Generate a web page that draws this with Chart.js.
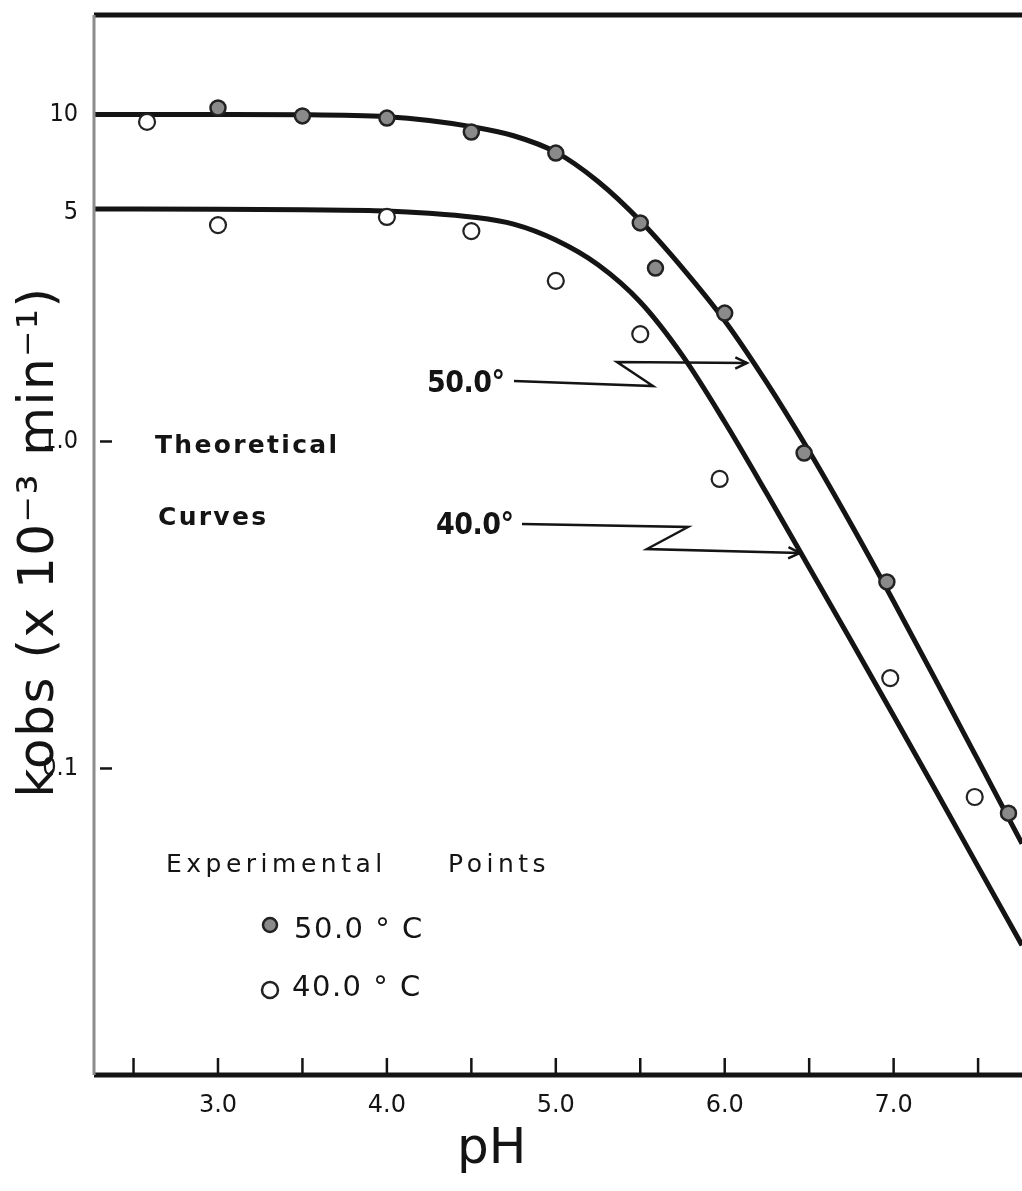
<!DOCTYPE html>
<html>
<head>
<meta charset="utf-8">
<script src="https://cdn.jsdelivr.net/npm/chart.js@4.4.1/dist/chart.umd.min.js"></script>
<style>
html, body { margin: 0; padding: 0; background: #fff; }
canvas { display: block; }
</style>
</head>
<body>
<canvas id="grafica" width="1022" height="1191"></canvas>
<script>
// ejes
const PH_MIN = 2.266, PH_MAX = 7.76
const K_MIN = 0.01155, K_MAX = 20.15
const X_LABELS = [3, 4, 5, 6, 7]
const X_MARKS = [2.5, 3, 3.5, 4, 4.5, 5, 5.5, 6, 6.5, 7, 7.5]
const Y_LABELS = [0.1, 1, 5, 10]
const Y_TEXT = { 0.1: "0.1", 1: "1.0", 5: "5", 10: "10" }

// curvas teoricas
const CURVE_PH = [2.266, 3.0, 3.5, 4.0, 4.25, 4.5, 4.75, 5.0, 5.25, 5.5, 5.75, 6.0, 6.25, 6.5, 6.75, 7.0, 7.25, 7.5, 7.76]
const CURVE_50 = [10.0, 10.0, 9.98, 9.84, 9.59, 9.18, 8.61, 7.67, 6.24, 4.73, 3.39, 2.34, 1.51, 0.933, 0.556, 0.324, 0.186, 0.106, 0.0589]
const CURVE_40 = [5.14, 5.13, 5.11, 5.07, 4.99, 4.86, 4.62, 4.13, 3.47, 2.67, 1.83, 1.147, 0.692, 0.412, 0.245, 0.145, 0.0855, 0.0501, 0.0288]

// puntos experimentales
const PTS50_PH = [3.0, 3.5, 4.0, 4.5, 5.0, 5.5, 5.59, 6.0, 6.47, 6.96, 7.68]
const PTS50_K = [10.47, 9.9, 9.75, 8.84, 7.62, 4.66, 3.39, 2.47, 0.922, 0.372, 0.073]
const PTS40_PH = [2.58, 3.0, 4.0, 4.5, 5.0, 5.5, 5.97, 6.98, 7.48]
const PTS40_K = [9.49, 4.59, 4.86, 4.40, 3.10, 2.13, 0.768, 0.189, 0.0818]

const COND = "'DejaVu Sans Condensed', 'Liberation Sans Narrow', sans-serif"
const SANS = "'DejaVu Sans', sans-serif"
const INK = "#141414"

function pares(xs, ys) {
    return xs.map((v, i) => ({ x: v, y: ys[i] }))
}

function linea(ctx, pts) {
    ctx.beginPath()
    ctx.moveTo(pts[0][0], pts[0][1])
    for (let p of pts.slice(1)) ctx.lineTo(p[0], p[1])
    ctx.stroke()
}

function flecha(ctx, pts) {
    linea(ctx, pts)
    let [x1, y1] = pts[pts.length - 2]
    let [x2, y2] = pts[pts.length - 1]
    let ang = Math.atan2(y2 - y1, x2 - x1)
    linea(ctx, [
        [x2 - 13 * Math.cos(ang - 0.45), y2 - 13 * Math.sin(ang - 0.45)],
        [x2, y2],
        [x2 - 13 * Math.cos(ang + 0.45), y2 - 13 * Math.sin(ang + 0.45)]
    ])
}

function texto(ctx, str, x, y, font, spacing) {
    ctx.font = font
    ctx.letterSpacing = (spacing || 0) + "px"
    ctx.fillText(str, x, y)
    ctx.letterSpacing = "0px"
}

const decor = {
    id: "decor",
    afterDraw(chart) {
        const { ctx, chartArea: a, scales: { x, y } } = chart
        ctx.save()
        ctx.lineCap = "butt"

        // marco
        ctx.strokeStyle = INK
        ctx.lineWidth = 5
        linea(ctx, [[a.left, a.top], [a.right, a.top]])
        linea(ctx, [[a.left, a.bottom], [a.right, a.bottom]])
        ctx.strokeStyle = "#8c8c8c"
        ctx.lineWidth = 3
        linea(ctx, [[a.left, a.top], [a.left, a.bottom]])

        // marcas hacia dentro
        ctx.strokeStyle = INK
        ctx.lineWidth = 2.5
        for (let v of X_MARKS) {
            let px = x.getPixelForValue(v)
            linea(ctx, [[px, a.bottom - 2], [px, a.bottom - 17]])
        }
        for (let v of [0.1, 1]) {
            let py = y.getPixelForValue(v)
            linea(ctx, [[a.left + 6, py], [a.left + 18, py]])
        }

        // flechas de las curvas
        ctx.lineWidth = 2.5
        flecha(ctx, [[514, 381], [653, 386], [617, 362], [747, 363]])
        flecha(ctx, [[522, 524], [688, 527], [647, 549], [800, 553]])

        ctx.fillStyle = INK
        ctx.textBaseline = "middle"
        ctx.textAlign = "left"
        texto(ctx, "50.0°", 427, 384, "bold 30px " + COND, -0.5)
        texto(ctx, "40.0°", 436, 526, "bold 30px " + COND, -0.5)
        texto(ctx, "Theoretical", 155, 446, "bold 25px " + SANS, 2.3)
        texto(ctx, "Curves", 158, 518, "bold 25px " + SANS, 2.3)
        texto(ctx, "Experimental", 166, 865, "25px " + SANS, 4.5)
        texto(ctx, "Points", 448, 865, "25px " + SANS, 4.5)
        texto(ctx, "50.0 ° C", 294, 930, "29px " + SANS, 1.5)
        texto(ctx, "40.0 ° C", 292, 988, "29px " + SANS, 1.5)

        // leyenda de puntos
        ctx.lineWidth = 2.5
        ctx.strokeStyle = "#222"
        ctx.fillStyle = "#8a8a8a"
        ctx.beginPath(); ctx.arc(270, 925, 7, 0, Math.PI * 2); ctx.fill(); ctx.stroke()
        ctx.fillStyle = "#fff"
        ctx.beginPath(); ctx.arc(270, 990, 8, 0, Math.PI * 2); ctx.fill(); ctx.stroke()

        // titulos de ejes
        ctx.fillStyle = INK
        ctx.textAlign = "center"
        texto(ctx, "pH", x.getPixelForValue(4.62), 1150, "50px " + SANS, 0)
        ctx.translate(40, 542)
        ctx.rotate(-Math.PI / 2)
        texto(ctx, "kobs (x 10⁻³ min⁻¹)", 0, 0, "50px " + SANS, 1.5)
        ctx.restore()
    }
}

new Chart(document.getElementById("grafica"), {
    type: "scatter",
    data: {
        datasets: [
            {
                label: "50.0 °C",
                data: pares(PTS50_PH, PTS50_K),
                pointRadius: 7.5,
                pointBackgroundColor: "#8a8a8a",
                pointBorderColor: "#222",
                pointBorderWidth: 2.5
            },
            {
                label: "40.0 °C",
                data: pares(PTS40_PH, PTS40_K),
                pointRadius: 8,
                pointBackgroundColor: "#fff",
                pointBorderColor: "#222",
                pointBorderWidth: 2.2
            },
            {
                label: "50.0°",
                data: pares(CURVE_PH, CURVE_50),
                showLine: true,
                cubicInterpolationMode: "monotone",
                borderColor: INK,
                borderWidth: 5,
                pointRadius: 0
            },
            {
                label: "40.0°",
                data: pares(CURVE_PH, CURVE_40),
                showLine: true,
                cubicInterpolationMode: "monotone",
                borderColor: INK,
                borderWidth: 5,
                pointRadius: 0
            }
        ]
    },
    options: {
        responsive: false,
        animation: false,
        devicePixelRatio: 1,
        layout: { autoPadding: false, padding: { top: 15, right: 0, left: 0, bottom: 0 } },
        plugins: { legend: { display: false }, tooltip: { enabled: false } },
        scales: {
            x: {
                type: "linear",
                min: PH_MIN,
                max: PH_MAX,
                grid: { display: false },
                border: { display: false },
                afterBuildTicks: s => { s.ticks = X_LABELS.map(v => ({ value: v })) },
                afterFit: s => { s.height = 116; s.paddingLeft = 0; s.paddingRight = 0 },
                ticks: {
                    padding: 8,
                    color: INK,
                    font: { family: SANS, size: 24 },
                    callback: v => v.toFixed(1)
                }
            },
            y: {
                type: "logarithmic",
                min: K_MIN,
                max: K_MAX,
                grid: { display: false },
                border: { display: false },
                afterBuildTicks: s => { s.ticks = Y_LABELS.map(v => ({ value: v })) },
                afterFit: s => { s.width = 94; s.paddingTop = 0; s.paddingBottom = 0 },
                ticks: {
                    padding: 8,
                    color: INK,
                    font: { family: COND, size: 25 },
                    callback: v => Y_TEXT[v]
                }
            }
        }
    },
    plugins: [decor]
})
</script>
</body>
</html>
